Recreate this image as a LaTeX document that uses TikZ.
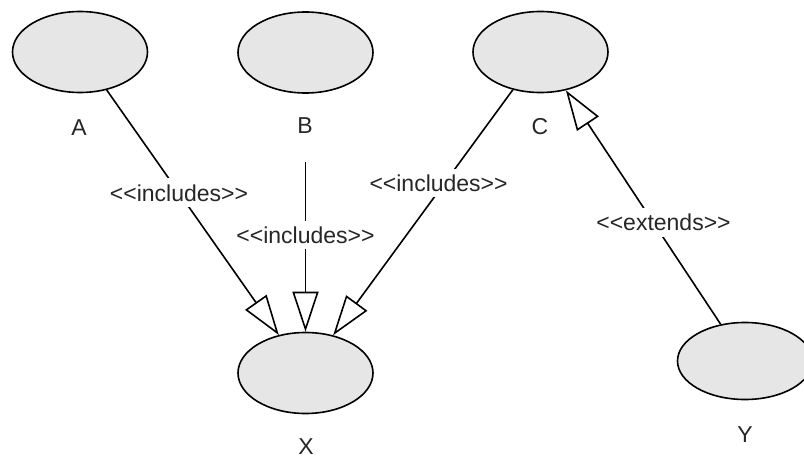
\documentclass[tikz,border=0pt]{standalone}
\usepackage{fontspec}
\setmainfont{Liberation Sans}
\usetikzlibrary{shapes.geometric,arrows.meta}
\definecolor{ucfill}{RGB}{230,230,230}
\newcommand{\labfont}{\fontsize{23pt}{27pt}\selectfont}
\tikzset{
  usecase/.style={ellipse, draw=black, line width=1.6pt, fill=ucfill,
    minimum width=135pt, minimum height=81pt, inner sep=0pt},
  ucname/.style={font=\labfont, text=black!85, inner sep=0pt},
  relation/.style={line width=1.6pt, -{Triangle[open, length=40pt, width=26pt]}},
  stereo/.style={fill=white, font=\labfont, text=black!85, inner xsep=1pt, inner ysep=6pt}
}
\begin{document}
\begin{tikzpicture}[x=1pt, y=-1pt]
  \useasboundingbox (0,0) rectangle (804,460);

  % use cases
  \node[usecase] (A) at (80,52) {};
  \node[usecase] (B) at (305.5,52.5) {};
  \node[usecase] (C) at (540.5,52) {};
  \node[usecase] (X) at (305.5,373) {};
  \node[usecase, minimum height=77pt] (Y) at (745,361) {};

  % use case names
  \node[ucname] (Aname) at (79,128) {A};
  \node[ucname] (Bname) at (305,126) {B};
  \node[ucname] (Cname) at (540,127) {C};
  \node[ucname] (Xname) at (306,447) {X};
  \node[ucname] (Yname) at (745,435) {Y};

  % B's connector leaves from below its name
  \coordinate (Bfoot) at (305.5,162);

  % relations
  \draw[relation] (A) -- node[stereo, pos=0.42] {<{}<includes>{}>} (X);
  \draw[relation] (Bfoot) -- node[stereo, pos=0.43] {<{}<includes>{}>} (X.north);
  \draw[relation] (C) -- node[stereo, pos=0.38, xshift=-6pt] {<{}<includes>{}>} (X);
  \draw[relation] (Y) -- node[stereo, pos=0.434, xshift=10pt] {<{}<extends>{}>} (C);
\end{tikzpicture}
\end{document}
